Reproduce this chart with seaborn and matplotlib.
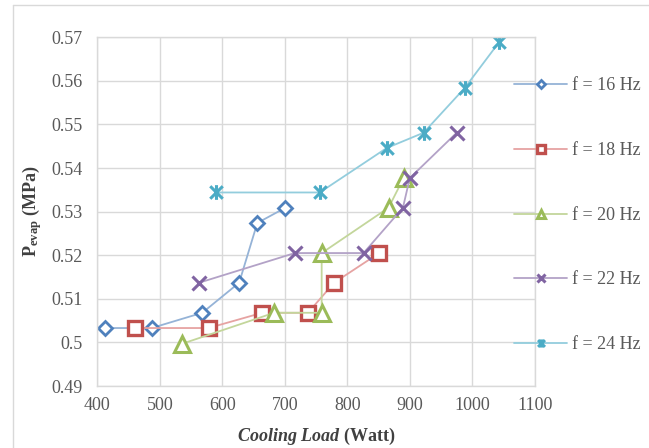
import matplotlib
matplotlib.use("Agg")
import matplotlib.pyplot as plt
import seaborn as sns
from matplotlib.path import Path
from matplotlib.lines import Line2D

# ---- data ----
labels = ["f = 16 Hz", "f = 18 Hz", "f = 20 Hz", "f = 22 Hz", "f = 24 Hz"]
x16 = [413, 487, 568, 627, 656, 701]
p16 = [0.5033, 0.5033, 0.5068, 0.5137, 0.5274, 0.5309]
x18 = [460, 578, 664, 737, 779, 851]
p18 = [0.5033, 0.5033, 0.5068, 0.5068, 0.5137, 0.5205]
x20 = [536, 683, 759, 759, 866, 890]
p20 = [0.4997, 0.5068, 0.5068, 0.5205, 0.5309, 0.5377]
x22 = [563, 716, 826, 889, 900, 975]
p22 = [0.5137, 0.5205, 0.5205, 0.5309, 0.5377, 0.5481]
x24 = [590, 756, 863, 922, 988, 1043]
p24 = [0.5344, 0.5344, 0.5446, 0.5481, 0.5584, 0.5689]

xticks = [400, 500, 600, 700, 800, 900, 1000, 1100]
yticks = [0.49, 0.50, 0.51, 0.52, 0.53, 0.54, 0.55, 0.56, 0.57]
ytick_labels = ["0.49", "0.5", "0.51", "0.52", "0.53", "0.54", "0.55", "0.56", "0.57"]

# ---- style ----
sns.set_theme(style="white")
plt.rcParams["font.family"] = ["Liberation Serif", "DejaVu Serif"]
plt.rcParams["mathtext.fontset"] = "custom"
plt.rcParams["mathtext.rm"] = "Liberation Serif:bold"
plt.rcParams["mathtext.bf"] = "Liberation Serif:bold"
plt.rcParams["mathtext.it"] = "Liberation Serif:italic:bold"

edge_cols = ["#4F81BD", "#C0504D", "#9BBB59", "#8064A2", "#4BACC6"]
line_cols = ["#95B3D7", "#E6A3A2", "#C3D69B", "#B3A2C7", "#93CDDD"]

star = Path([(0, -1), (0, 1), (-0.85, -0.85), (0.85, 0.85), (-0.85, 0.85), (0.85, -0.85)],
            [Path.MOVETO, Path.LINETO, Path.MOVETO, Path.LINETO, Path.MOVETO, Path.LINETO])
markers = ["D", "s", "^", "x", star]
msizes = [7.2, 10.4, 11, 9.6, 10.6]
mews = [2.0, 2.4, 2.2, 2.2, 2.2]
mfcs = ["white", "white", "white", "none", "none"]

fig = plt.figure(figsize=(6.49, 4.48), dpi=100)
ax = fig.add_axes([97.3 / 649, 1 - 386 / 448, (534.8 - 97.3) / 649, (386 - 37.3) / 448])

series = [(x16, p16), (x18, p18), (x20, p20), (x22, p22), (x24, p24)]
for i, (xs, ps) in enumerate(series):
    sns.lineplot(x=xs, y=ps, ax=ax, sort=False, estimator=None,
                 color=line_cols[i], linewidth=1.3,
                 marker=markers[i], markersize=msizes[i],
                 markeredgecolor=edge_cols[i], markerfacecolor=mfcs[i],
                 markeredgewidth=mews[i], label=labels[i])

ax.set_xlim(400, 1100)
ax.set_ylim(0.49, 0.57)
ax.set_xticks(xticks)
ax.set_xticklabels([str(t) for t in xticks])
ax.set_yticks(yticks)
ax.set_yticklabels(ytick_labels)
ax.grid(True, color="#D9D9D9", linewidth=1.0)
ax.set_axisbelow(True)
for s in ax.spines.values():
    s.set_color("#D9D9D9")
    s.set_linewidth(1.0)
ax.tick_params(length=0, labelsize=13, labelcolor="#595959")
ax.tick_params(axis="y", pad=10.5)
ax.tick_params(axis="x", pad=8)

ax.set_ylabel(r"P$_{\mathrm{evap}}$ (MPa)", fontsize=13, fontweight="bold", color="#404040")
ax.set_xlabel(r"$\mathit{Cooling\ Load}$ (Watt)", fontsize=13, fontweight="bold", color="#404040")
ax.yaxis.set_label_coords(-0.121, 0.5)
ax.xaxis.set_label_coords(0.5, -0.115)

fs_px = 13 * 100 / 72
leg = ax.legend(loc="upper left", bbox_to_anchor=(514 / 649, 1 - 77.5 / 448),
                bbox_transform=fig.transFigure, frameon=False, borderpad=0,
                borderaxespad=0, handlelength=53 / fs_px, handletextpad=5 / fs_px,
                labelspacing=2.64, fontsize=13, markerscale=0.55)
for t in leg.get_texts():
    t.set_color("#595959")

# outer chart border (left and top visible)
fig.add_artist(Line2D([13 / 649, 13 / 649], [0, 1 - 5 / 448], transform=fig.transFigure,
                      color="#D9D9D9", linewidth=1.0))
fig.add_artist(Line2D([13 / 649, 1], [1 - 5 / 448, 1 - 5 / 448], transform=fig.transFigure,
                      color="#D9D9D9", linewidth=1.0))

fig.savefig("out.png", dpi=100)
